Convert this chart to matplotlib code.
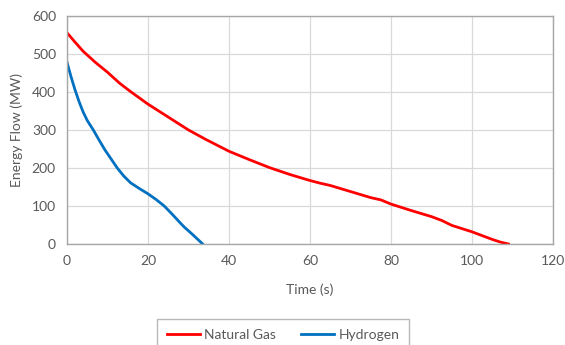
import matplotlib.pyplot as plt
import matplotlib

matplotlib.rc("font", family=['Lato', 'DejaVu Sans'])

# energy flow during shutdown, read at fixed times
gas_time = [0, 2, 4, 7, 10, 13, 15.7, 20, 25, 30, 34.3, 40, 45, 50, 55,
            60, 62.5, 65, 70, 75, 77.5, 80, 85, 90, 92.5, 95, 100, 105, 107, 109]
gas_flow = [556, 531, 507, 478, 452, 423, 401, 368, 334, 300, 275, 244, 222,
            201, 183, 167, 160, 154, 138, 122, 116, 105, 88, 72, 62, 49, 32, 12, 5, 0]

h2_time = [0, 1, 2, 3, 4, 5, 6.5, 8, 9.4, 11, 12.4, 14, 15.7, 18, 20, 22, 24, 26, 28, 29,
           31, 33.5]
h2_flow = [478, 440, 405, 374, 347, 325, 300, 272, 247, 222, 200, 179, 161, 145, 132, 117,
           100, 78, 55, 44, 25, 0]

text_color = '#595959'

fig = plt.figure(figsize=(5.65, 3.45), dpi=100)
ax = fig.add_axes([0.1186, 0.2928, 0.8602, 0.6608])

ax.plot(gas_time, gas_flow, color='#ff0000', lw=2.0, label='Natural Gas')
ax.plot(h2_time, h2_flow, color='#0070c0', lw=2.0, label='Hydrogen')

ax.set_xlim(0, 120)
ax.set_ylim(0, 600)
ax.set_xticks(range(0, 121, 20))
ax.set_yticks(range(0, 601, 100))
ax.grid(True, color='#d9d9d9', lw=0.9)
ax.set_axisbelow(True)
for s in ax.spines.values():
    s.set_color('#a6a6a6')
    s.set_linewidth(1.0)
ax.tick_params(length=0, pad=8, labelsize=10, colors=text_color)

ax.set_xlabel('Time (s)', fontsize=10, color=text_color, labelpad=12)
ax.set_ylabel('Energy Flow (MW)', fontsize=10, color=text_color, labelpad=6)

leg = fig.legend(loc='upper left', bbox_to_anchor=(157 / 565, 1 - 319 / 345),
                 ncol=2, fontsize=10, frameon=True, fancybox=False,
                 handlelength=2.4, handletextpad=0.3, columnspacing=1.8,
                 borderpad=0.7, borderaxespad=0)
leg.get_frame().set_edgecolor('#a6a6a6')
leg.get_frame().set_linewidth(1.0)
for t in leg.get_texts():
    t.set_color(text_color)

fig.savefig('out.png', dpi=100)
